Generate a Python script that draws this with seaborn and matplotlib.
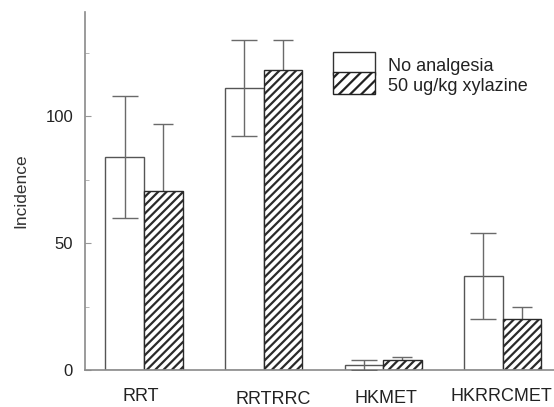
import matplotlib
matplotlib.use('Agg')
import matplotlib.pyplot as plt
import matplotlib.transforms as mtransforms
from matplotlib.patches import Patch, Rectangle
from matplotlib.legend_handler import HandlerPatch
import seaborn as sns
import pandas as pd

categories = ['RRT', 'RRTRRC', 'HKMET', 'HKRRCMET']
groups = ['No analgesia', '50 ug/kg xylazine']
no_analgesia = [84, 111, 2, 37]
no_analgesia_err = [24, 19, 2, 17]
xylazine = [70.5, 118, 4, 20]
xylazine_err = [26.5, 12, 1, 5]
yticks = [0, 50, 100]
yminor = [25, 75, 125]

df = pd.DataFrame({
    'Category': categories * 2,
    'Group': [groups[0]] * len(categories) + [groups[1]] * len(categories),
    'Incidence': no_analgesia + xylazine,
})

sns.set_style('ticks')
plt.rcParams['font.family'] = ['Liberation Sans', 'DejaVu Sans']
plt.rcParams['hatch.linewidth'] = 1.6
plt.rcParams['hatch.color'] = '#1a1a1a'

fig = plt.figure(figsize=(5.54, 4.07), dpi=100)
ax = fig.add_axes([85 / 554, 37 / 407, 469 / 554, 358 / 407])

sns.barplot(data=df, x='Category', y='Incidence', hue='Group',
            order=categories, hue_order=groups,
            palette=['white', 'white'], saturation=1,
            width=0.645, errorbar=None, edgecolor='#555555', linewidth=1.0,
            legend=False, ax=ax)

c_plain, c_hatch = ax.containers[0], ax.containers[1]
for b in c_hatch:
    b.set_hatch('////')
    b.set_edgecolor('#2a2a2a')

def centers(container):
    return [p.get_x() + p.get_width() / 2 for p in container]

ax.errorbar(centers(c_plain), no_analgesia, yerr=no_analgesia_err, fmt='none',
            ecolor='#6a6a6a', elinewidth=1.0, capsize=9.5, capthick=1.0, zorder=3)
ax.errorbar(centers(c_hatch), xylazine, yerr=xylazine_err, fmt='none',
            ecolor='#6a6a6a', elinewidth=1.0, capsize=7, capthick=1.0, zorder=0.5)

ax.set_xlim(-0.494, 3.43)
ax.set_ylim(0, 141)
ax.set_yticks(yticks)
ax.set_yticks(yminor, minor=True)
ax.tick_params(axis='y', which='major', direction='in', length=4, width=0.8,
               color='#999999', pad=8.6, labelsize=12, labelcolor='#222222')
ax.tick_params(axis='y', which='minor', direction='in', length=3, width=0.6,
               color='#aaaaaa')
ax.tick_params(axis='x', length=0, pad=13, labelsize=13, labelcolor='#222222')

# small per-label shifts (px) seen in the scanned original
dx = [-3.5, 9.5, 3, -1]
dy = [0, 2.5, 1.5, 0]
for lab, ox, oy in zip(ax.get_xticklabels(), dx, dy):
    lab.set_transform(lab.get_transform() +
                      mtransforms.ScaledTranslation(ox / 100, -oy / 100, fig.dpi_scale_trans))

for s in ['top', 'right']:
    ax.spines[s].set_visible(False)
ax.spines['left'].set_color('#8a8a8a')
ax.spines['left'].set_linewidth(1.2)
ax.spines['bottom'].set_color('#8a8a8a')
ax.spines['bottom'].set_linewidth(1.2)

ax.set_xlabel('')
ax.set_ylabel('Incidence', fontsize=12.5, color='#333333')
ax.yaxis.set_label_coords(-0.1215, 0.5)


def full_rect(legend, orig_handle, xdescent, ydescent, width, height, fontsize):
    return Rectangle(xy=(-xdescent, -ydescent), width=width, height=height + ydescent)


handles = [Patch(facecolor='white', edgecolor='#333333', linewidth=1.0),
           Patch(facecolor='white', edgecolor='#222222', linewidth=1.0, hatch='///')]
fig.legend(handles, groups, loc='upper left', bbox_to_anchor=(333 / 554, 1 - 55.5 / 407),
           frameon=False, borderpad=0, borderaxespad=0, labelspacing=0,
           handlelength=2.34, handleheight=1.246, handletextpad=0.72,
           fontsize=13, labelcolor='#222222',
           handler_map={Patch: HandlerPatch(patch_func=full_rect)})

fig.savefig('out.png', dpi=100)
